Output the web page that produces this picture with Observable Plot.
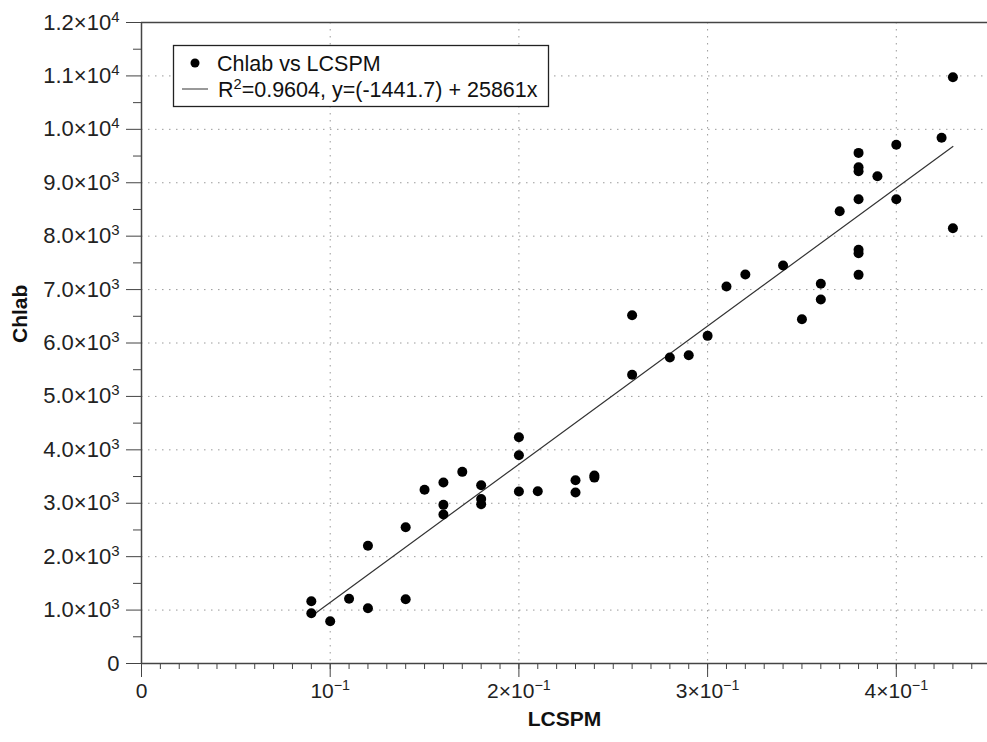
<!DOCTYPE html>
<html><head><meta charset="utf-8">
<script src="https://cdn.jsdelivr.net/npm/d3@7"></script>
<script src="https://cdn.jsdelivr.net/npm/@observablehq/plot@0.6"></script>
<style>body{margin:0;background:#fff;} #chart{width:987px;height:742px;}</style>
</head><body><div id="chart"></div>
<script>
// ---- data ----
const lcspm = [0.09,0.09,0.10,0.11,0.12,0.12,0.14,0.14,0.15,0.16,0.16,0.16,0.17,0.18,0.18,0.18,
  0.20,0.20,0.20,0.21,0.23,0.23,0.24,0.24,0.26,0.26,0.28,0.29,0.30,0.31,0.32,0.34,0.35,0.36,0.36,
  0.37,0.38,0.38,0.38,0.38,0.38,0.38,0.38,0.39,0.40,0.40,0.424,0.43,0.43];
const chlab = [942,1166,792,1211,1035,2203,1204,2552,3252,3388,2970,2789,3588,3338,3080,2980,
  4237,3900,3220,3226,3432,3201,3519,3480,6520,5404,5728,5771,6134,7057,7282,7450,6445,7108,6814,
  8467,9559,9291,9216,8692,7744,7681,7276,9122,9710,8692,9841,10975,8149];
const fitIntercept = -1441.7;
const fitSlope = 25861;
const fitR2 = 0.9604;
const fitXRange = [0.09, 0.43];
const seriesName = "Chlab vs LCSPM";
const xLabel = "LCSPM";
const yLabel = "Chlab";
const yTicks = [0,1000,2000,3000,4000,5000,6000,7000,8000,9000,10000,11000,12000];
const yTickLabels = ["0","1.0×10^3","2.0×10^3","3.0×10^3","4.0×10^3","5.0×10^3","6.0×10^3",
  "7.0×10^3","8.0×10^3","9.0×10^3","1.0×10^4","1.1×10^4","1.2×10^4"];
const yMinorTicks = [500,1500,2500,3500,4500,5500,6500,7500,8500,9500,10500,11500];
const xTicks = [0,0.1,0.2,0.3,0.4];
const xTickLabels = ["0","10^−1","2×10^−1","3×10^−1","4×10^−1"];
const xMinorTicks = d3.range(0,45).map(i => i/100);

const points = lcspm.map((x,i) => ({x, y: chlab[i]}));
const fit = fitXRange.map(x => ({x, y: fitIntercept + fitSlope*x}));

const font = "'Liberation Sans', Arial, Helvetica, sans-serif";
const axisColor = "#444";
const gridStyle = {stroke:"#9a9a9a", strokeDasharray:"1.5,5.5", strokeWidth:1};

const svg = Plot.plot({
  width: 987, height: 742,
  marginLeft: 141, marginRight: 0, marginTop: 22, marginBottom: 79,
  style: {fontFamily: font, background: "white", color: "#222"},
  x: {domain: [0, 846/1887]},
  y: {domain: [0, 12000]},
  marks: [
    Plot.ruleY(yTicks.slice(1,-1), gridStyle),
    Plot.ruleX(xTicks.slice(1), gridStyle),
    Plot.axisY(yMinorTicks, {tickSize: 8, tickFormat: () => "", label: null, stroke: axisColor}),
    Plot.axisY(yTicks, {tickSize: 15, tickPadding: 7, fontSize: 22, label: null, stroke: axisColor,
      tickFormat: d => yTickLabels[yTicks.indexOf(d)]}),
    Plot.axisX(xMinorTicks, {tickSize: 6, tickFormat: () => "", label: null, stroke: axisColor}),
    Plot.axisX(xTicks, {tickSize: 14, tickPadding: 6, fontSize: 21, label: null, stroke: axisColor,
      tickFormat: d => xTickLabels[xTicks.indexOf(d)]}),
    Plot.ruleX([0], {stroke: axisColor, strokeWidth: 1.5}),
    Plot.ruleY([0], {stroke: axisColor, strokeWidth: 1.5}),
    Plot.ruleY([12000], {stroke: axisColor, strokeWidth: 1.5}),
    Plot.line(fit, {x: "x", y: "y", stroke: "#333", strokeWidth: 1.2}),
    Plot.dot(points, {x: "x", y: "y", r: 5, fill: "black", stroke: "none"}),
    Plot.text([yLabel], {frameAnchor: "left", dx: -121, rotate: -90, fontSize: 21, fontWeight: "bold", fill: "#111"}),
    Plot.text([xLabel], {frameAnchor: "bottom", dy: 62, fontSize: 21, fontWeight: "bold", fill: "#111"})
  ]
});

const NS = "http://www.w3.org/2000/svg";
function supify(t, shift) {
  const s = t.textContent;
  if (!s.includes("^")) return;
  const parts = s.split("^");
  t.textContent = "";
  const a = document.createElementNS(NS, "tspan"); a.textContent = parts[0];
  const b = document.createElementNS(NS, "tspan"); b.textContent = parts[1];
  b.setAttribute("dy", -shift); b.setAttribute("font-size", "0.68em");
  t.appendChild(a); t.appendChild(b);
}
svg.querySelectorAll("text").forEach(t => supify(t, 8));

// legend
const g = d3.select(svg).append("g").attr("font-family", font).attr("fill", "#111")
  .attr("text-anchor", "start");
g.append("rect").attr("x", 173.5).attr("y", 45.5).attr("width", 375).attr("height", 61)
  .attr("fill", "white").attr("stroke", "#222").attr("stroke-width", 1.3);
g.append("circle").attr("cx", 195).attr("cy", 63).attr("r", 4.5).attr("fill", "black");
g.append("line").attr("x1", 182).attr("x2", 208).attr("y1", 89).attr("y2", 89)
  .attr("stroke", "#555").attr("stroke-width", 1.2);
g.append("text").attr("x", 217).attr("y", 71).attr("font-size", 21.5).text(seriesName);
const t2 = g.append("text").attr("x", 218).attr("y", 97).attr("font-size", 21.5);
t2.append("tspan").text("R");
t2.append("tspan").attr("dy", -8).attr("font-size", "0.68em").text("2");
t2.append("tspan").attr("dy", 8).text(`=${fitR2}, y=(${fitIntercept}) + ${fitSlope}x`);

document.getElementById("chart").appendChild(svg);
</script>
</body></html>
